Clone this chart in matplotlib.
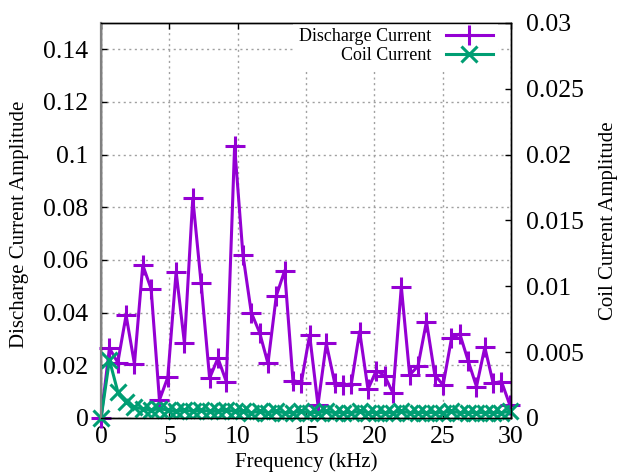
import matplotlib
matplotlib.use("Agg")
import matplotlib.pyplot as plt

plt.rcParams['font.family'] = ['Liberation Serif', 'DejaVu Serif']

# frequency bins (kHz)
freq = [0.00, 0.61, 1.22, 1.83, 2.44, 3.05, 3.66, 4.27, 4.88, 5.49,
        6.10, 6.71, 7.32, 7.94, 8.55, 9.16, 9.77, 10.38, 10.99, 11.60,
        12.21, 12.82, 13.43, 14.04, 14.65, 15.26, 15.87, 16.48, 17.09, 17.70,
        18.31, 18.92, 19.53, 20.14, 20.75, 21.36, 21.97, 22.58, 23.19, 23.81,
        24.42, 25.03, 25.64, 26.25, 26.86, 27.47, 28.08, 28.69, 29.30, 29.91]

discharge = [0, 0.0265, 0.021, 0.039, 0.0205, 0.058, 0.049, 0.0068, 0.0154, 0.0555,
             0.0283, 0.0834, 0.0511, 0.0151, 0.0227, 0.0138, 0.1032, 0.0619, 0.040, 0.0324,
             0.0207, 0.0463, 0.0559, 0.0142, 0.0134, 0.0315, 0.0049, 0.0283, 0.0134, 0.0125,
             0.0129, 0.0328, 0.0109, 0.018, 0.016, 0.0094, 0.0498, 0.0163, 0.0197, 0.0366,
             0.0163, 0.0125, 0.0302, 0.0319, 0.0217, 0.0119, 0.0268, 0.0132, 0.0138, 0.0049]

coil = [0, 0.0044, 0.0020, 0.0012, 0.0008, 0.0007, 0.0006, 0.0007, 0.0006, 0.0005,
        0.0006, 0.0005, 0.0006, 0.0005, 0.0005, 0.0006, 0.0005, 0.0005, 0.0004, 0.0005,
        0.0004, 0.0005, 0.0004, 0.0004, 0.0005, 0.0004, 0.0004, 0.0005, 0.0004, 0.0004,
        0.0004, 0.0005, 0.0004, 0.0004, 0.0004, 0.0004, 0.0005, 0.0004, 0.0004, 0.0004,
        0.0004, 0.0004, 0.0005, 0.0004, 0.0004, 0.0004, 0.0004, 0.0004, 0.0004, 0.0005]

xticks = [0, 5, 10, 15, 20, 25, 30]
yticks = [0, 0.02, 0.04, 0.06, 0.08, 0.1, 0.12, 0.14]
y2ticks = [0, 0.005, 0.01, 0.015, 0.02, 0.025, 0.03]

purple = '#9400D3'
green = '#009E73'

fig = plt.figure(figsize=(6.24, 4.76), dpi=100)
ax = fig.add_axes([0.162, 0.122, 0.657, 0.830])
ax2 = ax.twinx()

l1, = ax.plot(freq, discharge, color=purple, lw=2.2, marker='+', ms=14, mew=2.2,
              clip_on=False, zorder=3, label='Discharge Current')
l2, = ax2.plot(freq, coil, color=green, lw=2.2, marker='x', ms=11, mew=2.2,
               clip_on=False, zorder=3, label='Coil Current')

ax.set_xlim(0, 30)
ax.set_ylim(0, 0.15)
ax2.set_ylim(0, 0.03)

ax.set_xticks(xticks)
ax.set_xticklabels([f'{v:g}' for v in xticks])
ax.set_yticks(yticks)
ax.set_yticklabels([f'{v:g}' for v in yticks])
ax2.set_yticks(y2ticks)
ax2.set_yticklabels([f'{v:g}' for v in y2ticks])

ax.grid(True, color='#a0a0a0', linestyle=(0, (1.5, 2.5)), linewidth=1)
ax.set_axisbelow(True)

ax.tick_params(axis='x', direction='in', top=True, length=4, width=1, labelsize=18.5, pad=6)
ax.tick_params(axis='y', direction='in', right=False, length=4, width=1, labelsize=18.5, pad=9)
ax2.tick_params(axis='y', direction='in', length=4, width=1, labelsize=18.5, pad=11)

for a in (ax, ax2):
    for s in a.spines.values():
        s.set_linewidth(1)
        s.set_zorder(6)
ax2.spines['left'].set_color('#808080')
ax2.spines['left'].set_linewidth(1.6)

ax.set_xlabel('Frequency (kHz)', fontsize=15)
ax.set_ylabel('Discharge Current Amplitude', fontsize=15)
ax2.set_ylabel('Coil Current Amplitude', fontsize=15)
ax.xaxis.set_label_coords(0.5, -0.086)
ax.yaxis.set_label_coords(-0.176, 0.49)
ax2.yaxis.set_label_coords(1.214, 0.50)

leg = ax2.legend(handles=[l1, l2], loc='upper right', bbox_to_anchor=(0.968, 1.0),
                 borderaxespad=0, borderpad=0.3, markerfirst=False, fontsize=13,
                 handlelength=2.6, handletextpad=0.8, labelspacing=0.1,
                 frameon=True, fancybox=False, framealpha=1)
leg.get_frame().set_edgecolor('none')
leg.get_frame().set_facecolor('white')

fig.savefig('out.png', dpi=100)
